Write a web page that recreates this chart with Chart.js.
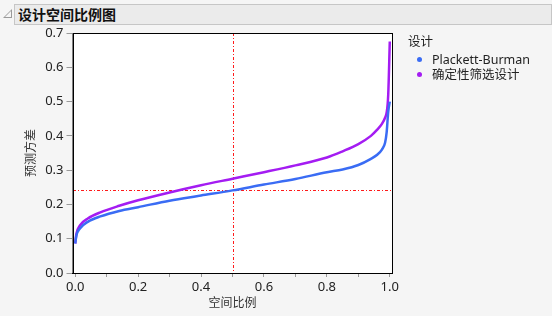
<!DOCTYPE html>
<html>
<head>
<meta charset="utf-8">
<script src="https://cdn.jsdelivr.net/npm/chart.js@4"></script>
<style>
  body { margin: 0; background: #f5f5f5; font-family: "Segoe UI", "Noto Sans", "Noto Sans CJK SC", sans-serif; }
  #wrap { position: relative; width: 552px; height: 316px; overflow: hidden; }
  #bar { position: absolute; left: 14px; top: 4px; width: 536px; height: 19px; background: #ebebeb; border: 1px solid #c6c6c6; }
  #bar span { position: absolute; left: 3px; top: 0px; font: bold 14px "Noto Sans CJK SC", sans-serif; color: #111; line-height: 19px; }
  #tri { position: absolute; left: 3px; top: 9px; width: 0; height: 0; border-left: 9px solid transparent; border-bottom: 9px solid #9a9a9a; }
  #tri:after { content: ""; position: absolute; left: -7px; top: 2px; border-left: 6px solid transparent; border-bottom: 6px solid #f5f5f5; }
  #legend { position: absolute; left: 408px; top: 31px; font-size: 12.5px; color: #222; }
  #legend .head { font-family: "Noto Sans CJK SC", sans-serif; margin-bottom: 2px; }
  #legend .item { position: relative; padding-left: 24px; height: 15px; line-height: 15px; font-family: "Segoe UI", "Noto Sans", "Noto Sans CJK SC", sans-serif; }
  #legend .dot { position: absolute; left: 9px; top: 5px; width: 5px; height: 5px; border-radius: 50%; }
  canvas { position: absolute; left: 0; top: 0; }
</style>
</head>
<body>
<div id="wrap">
  <canvas id="chart" width="552" height="316"></canvas>
  <div id="tri"></div>
  <div id="bar"><span>设计空间比例图</span></div>
  <div id="legend">
    <div class="head">设计</div>
    <div class="item"><span class="dot" style="background:#3a6cf4"></span>Plackett-Burman</div>
    <div class="item"><span class="dot" style="background:#a41cf2"></span>确定性筛选设计</div>
  </div>
</div>
<script>
// fraction of design space
const fraction = [0, 0.004, 0.015, 0.04, 0.08, 0.14, 0.2, 0.3, 0.4, 0.5, 0.6, 0.7, 0.8, 0.85, 0.9, 0.94, 0.96, 0.975, 0.985, 0.99, 0.995, 1.0];
const pbVar =  [0.086, 0.11, 0.13, 0.149, 0.165, 0.181, 0.192, 0.211, 0.226, 0.241, 0.258, 0.274, 0.294, 0.302, 0.315, 0.333, 0.345, 0.36, 0.38, 0.41, 0.47, 0.50];
const dsdVar = [0.086, 0.115, 0.139, 0.159, 0.177, 0.196, 0.212, 0.235, 0.256, 0.275, 0.294, 0.314, 0.337, 0.355, 0.376, 0.40, 0.418, 0.435, 0.453, 0.468, 0.52, 0.675];
const seriesNames = ['Plackett-Burman', '确定性筛选设计'];

const xTicks = [0, 0.1, 0.2, 0.3, 0.4, 0.5, 0.6, 0.7, 0.8, 0.9, 1.0];
const xLabels = ['0.0', '', '0.2', '', '0.4', '', '0.6', '', '0.8', '', '1.0'];
const yTicks = [0, 0.1, 0.2, 0.3, 0.4, 0.5, 0.6, 0.7];
const refX = 0.5;
const refY = 0.241;

const toPts = (ys) => fraction.map((x, i) => ({ x: x, y: ys[i] }));

// dash-dot drawn pixel by pixel so it stays crisp
function dashDot(ctx, x0, y0, len, vertical) {
    const pattern = [3, 2, 1, 2];
    let pos = 0, k = 0;
    while (pos < len) {
        const seg = Math.min(pattern[k % 4], len - pos);
        if (k % 2 === 0) {
            if (vertical) ctx.fillRect(x0, y0 + pos, 1, seg);
            else ctx.fillRect(x0 + pos, y0, seg, 1);
        }
        pos += pattern[k % 4];
        k++;
    }
}

const frame = {
    id: 'frame',
    beforeDatasetsDraw(chart) {
        const a = chart.chartArea;
        const ctx = chart.ctx;
        ctx.save();
        ctx.fillStyle = '#ffffff';
        ctx.fillRect(a.left, a.top, a.right - a.left, a.bottom - a.top);
        const xs = chart.scales.x, ys = chart.scales.y;
        const px = Math.round(xs.getPixelForValue(refX));
        const py = Math.round(ys.getPixelForValue(refY));
        ctx.fillStyle = '#ff1a1a';
        dashDot(ctx, px, Math.round(a.top), Math.round(a.bottom - a.top), true);
        dashDot(ctx, Math.round(a.left), py, Math.round(a.right - a.left), false);
        ctx.restore();
    },
    afterDraw(chart) {
        const a = chart.chartArea;
        const ctx = chart.ctx;
        ctx.save();
        ctx.strokeStyle = '#000';
        ctx.lineWidth = 1;
        ctx.strokeRect(Math.round(a.left) + 0.5, Math.round(a.top) + 0.5, Math.round(a.right - a.left) - 1, Math.round(a.bottom - a.top));
        ctx.restore();
    }
};

const tickFont = { family: '"Segoe UI", "Noto Sans", sans-serif', size: 13 };
const titleFont = { family: '"Noto Sans CJK SC", sans-serif', size: 12 };

new Chart(document.getElementById('chart'), {
    type: 'line',
    data: {
        datasets: [{
            label: seriesNames[0],
            data: toPts(pbVar),
            borderColor: '#3a6cf4',
            borderWidth: 2.5,
            pointRadius: 0,
            cubicInterpolationMode: 'monotone',
        }, {
            label: seriesNames[1],
            data: toPts(dsdVar),
            borderColor: '#a41cf2',
            borderWidth: 2.5,
            pointRadius: 0,
            cubicInterpolationMode: 'monotone',
        }]
    },
    options: {
        responsive: false,
        animation: false,
        layout: { padding: { left: 0, top: 33, right: 159.5, bottom: 0 } },
        plugins: { legend: { display: false }, tooltip: { enabled: false } },
        scales: {
            x: {
                type: 'linear',
                min: -0.0086,
                max: 1.0086,
                afterBuildTicks: (s) => { s.ticks = xTicks.map(v => ({ value: v })); },
                afterFit: (s) => { s.height = 43; },
                ticks: {
                    color: '#222',
                    font: tickFont,
                    padding: 2,
                    maxRotation: 0,
                    autoSkip: false,
                    callback: (v, i) => xLabels[i],
                },
                grid: { drawOnChartArea: false, tickLength: 4, color: '#999' },
                border: { color: '#000' },
                title: { display: true, text: '空间比例', color: '#333', font: titleFont, padding: { top: 0, bottom: 6 } },
            },
            y: {
                min: 0,
                max: 0.7,
                afterBuildTicks: (s) => { s.ticks = yTicks.map(v => ({ value: v })); },
                afterFit: (s) => { s.width = 72.5; },
                ticks: {
                    color: '#222',
                    font: tickFont,
                    padding: 3,
                    callback: (v) => v.toFixed(1),
                },
                grid: { drawOnChartArea: false, tickLength: 6, color: '#999' },
                border: { color: '#000' },
                title: { display: true, text: '预测方差', color: '#333', font: titleFont, padding: { top: 23, bottom: 0 } },
            }
        }
    },
    plugins: [frame]
});
</script>
</body>
</html>
